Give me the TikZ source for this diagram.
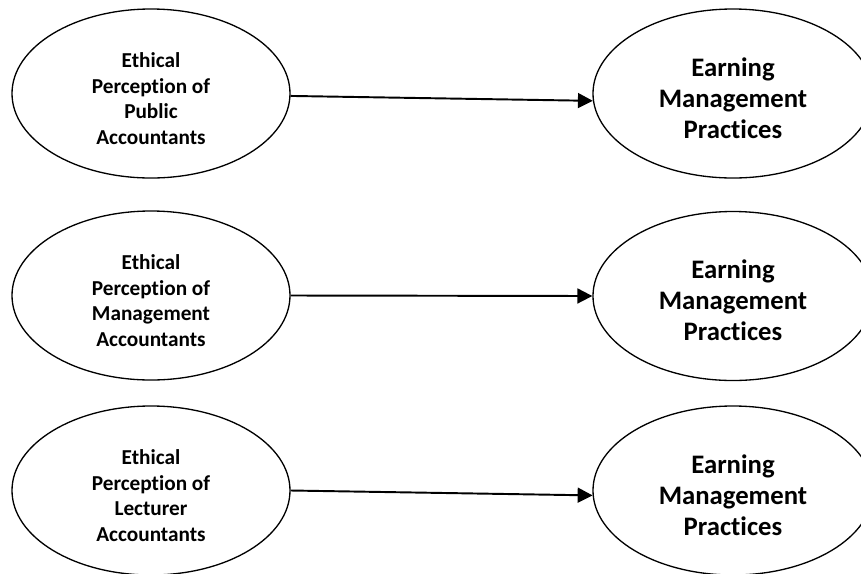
\documentclass[tikz,border=0pt]{standalone}
\usepackage{fontspec}
\setmainfont{Carlito}[Ligatures=NoCommon]
\usetikzlibrary{shapes.geometric, arrows.meta}
\tikzset{
  cause node/.style={
    ellipse,
    draw,
    line width=0.75pt,
    minimum width=5.56cm,
    minimum height=3.38cm,
    align=center,
    text height=58pt,
    font=\fontsize{12.1}{14.6}\selectfont\bfseries,
  },
  effect node/.style={
    ellipse,
    draw,
    line width=0.75pt,
    minimum width=5.6cm,
    minimum height=3.38cm,
    align=center,
    text height=51pt,
    font=\fontsize{15.2}{17.6}\selectfont\bfseries,
  },
  link/.style={
    line width=1.1pt,
    -{Triangle[length=8.5pt,width=8.5pt]},
  },
}

\begin{document}
\begin{tikzpicture}
        \useasboundingbox (0,0) rectangle (17.22,-11.48);

        \node[cause node] (pub) at (3.02,-1.87) {Ethical\\Perception of\\Public\\Accountants};
        \node[cause node] (man) at (3.02,-5.91) {Ethical\\Perception of\\Management\\Accountants};
        \node[cause node] (lec) at (3.02,-9.81) {Ethical\\Perception of\\Lecturer\\Accountants};

        \node[effect node] (em1) at (14.66,-1.87) {Earning\\Management\\Practices};
        \node[effect node] (em2) at (14.66,-5.92) {Earning\\Management\\Practices};
        \node[effect node] (em3) at (14.66,-9.81) {Earning\\Management\\Practices};

        \draw[link] (pub.-1.9) -- (em1.183.6);
        \draw[link] (man.0.6) -- (em2.180.85);
        \draw[link] (lec.-0.6) -- (em3.182.3);
      \end{tikzpicture}
\end{document}
